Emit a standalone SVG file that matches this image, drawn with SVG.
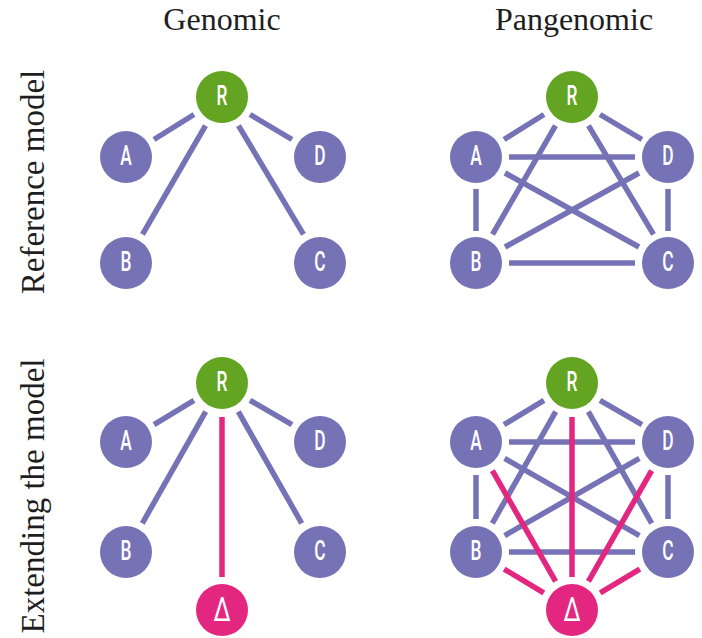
<svg xmlns="http://www.w3.org/2000/svg" width="702" height="638" viewBox="0 0 702 638">
<style>
.e{stroke:#7672b6;stroke-width:5.5;fill:none}
.m{stroke:#e3267f;stroke-width:5.5;fill:none}
.np{fill:#7672b6}
.ng{fill:#63a422}
.nm{fill:#e3267f}
.lb{font-family:"Roboto","Liberation Sans",sans-serif;font-size:28px;font-weight:500;fill:#fff;text-anchor:middle}
.dl{font-family:"Roboto","Liberation Sans",sans-serif;font-size:34px;font-weight:400;fill:#fff;text-anchor:middle}
.t{font-family:"Liberation Serif",serif;font-size:32px;fill:#1e1e1e;text-anchor:middle}
</style>
<rect width="702" height="638" fill="#fff"/>
<text class="t" x="222" y="30">Genomic</text>
<text class="t" x="574" y="30">Pangenomic</text>
<text class="t" transform="translate(44,182) rotate(-90)" style="font-size:33px">Reference model</text>
<text class="t" transform="translate(44,496) rotate(-90)" style="font-size:33px">Extending the model</text>
<g id="connectors">
<line class="e" x1="194" y1="114.5" x2="154" y2="139.5"/>
<line class="e" x1="205.5" y1="125.6" x2="142.5" y2="234.4"/>
<line class="e" x1="250" y1="114.5" x2="292" y2="139.5"/>
<line class="e" x1="238.5" y1="125.6" x2="303.5" y2="234.4"/>
<line class="e" x1="544" y1="114.5" x2="504" y2="139.5"/>
<line class="e" x1="555.5" y1="125.6" x2="492.5" y2="234.4"/>
<line class="e" x1="600" y1="114.5" x2="642" y2="139.5"/>
<line class="e" x1="588.5" y1="125.6" x2="653.5" y2="234.4"/>
<line class="e" x1="509" y1="157" x2="635" y2="157"/>
<line class="e" x1="476" y1="189" x2="476" y2="231"/>
<line class="e" x1="668" y1="189" x2="668" y2="231"/>
<line class="e" x1="509" y1="263" x2="635" y2="263"/>
<line class="e" x1="505" y1="173" x2="639" y2="247"/>
<line class="e" x1="639" y1="173" x2="505" y2="247"/>
<line class="e" x1="194" y1="400.3" x2="154" y2="424.7"/>
<line class="e" x1="250" y1="400.3" x2="292" y2="424.7"/>
<line class="e" x1="205.7" y1="411.7" x2="142.3" y2="523.3"/>
<line class="e" x1="238.3" y1="411.7" x2="301.7" y2="523.3"/>
<line class="m" x1="222" y1="417" x2="222" y2="577"/>
<line class="e" x1="544" y1="400.3" x2="504" y2="424.7"/>
<line class="e" x1="600" y1="400.3" x2="642" y2="424.7"/>
<line class="e" x1="555.7" y1="411.7" x2="492.3" y2="523.3"/>
<line class="e" x1="588.3" y1="411.7" x2="651.7" y2="523.3"/>
<line class="e" x1="509" y1="442" x2="635" y2="442"/>
<line class="e" x1="476" y1="475" x2="476" y2="519"/>
<line class="e" x1="668" y1="475" x2="668" y2="519"/>
<line class="e" x1="509" y1="552" x2="635" y2="552"/>
<line class="e" x1="504.6" y1="458.4" x2="639.4" y2="535.6"/>
<line class="e" x1="639.4" y1="458.4" x2="504.6" y2="535.6"/>
<line class="m" x1="572" y1="417" x2="572" y2="577"/>
<line class="m" x1="492.4" y1="470.7" x2="555.6" y2="581.3"/>
<line class="m" x1="651.6" y1="470.7" x2="588.4" y2="581.3"/>
<line class="m" x1="504.2" y1="569.1" x2="543.8" y2="592.9"/>
<line class="m" x1="639.8" y1="569.1" x2="600.2" y2="592.9"/>
</g>
<g id="tl-R"><circle class="ng" cx="222" cy="97" r="26"/><text class="lb" transform="translate(222,105) scale(0.62,1)">R</text></g>
<g id="tl-A"><circle class="np" cx="126" cy="157" r="26"/><text class="lb" transform="translate(126,165) scale(0.62,1)">A</text></g>
<g id="tl-D"><circle class="np" cx="320" cy="157" r="26"/><text class="lb" transform="translate(320,165) scale(0.62,1)">D</text></g>
<g id="tl-B"><circle class="np" cx="126" cy="263" r="26"/><text class="lb" transform="translate(126,271) scale(0.62,1)">B</text></g>
<g id="tl-C"><circle class="np" cx="320" cy="263" r="26"/><text class="lb" transform="translate(320,271) scale(0.62,1)">C</text></g>
<g id="tr-R"><circle class="ng" cx="572" cy="97" r="26"/><text class="lb" transform="translate(572,105) scale(0.62,1)">R</text></g>
<g id="tr-A"><circle class="np" cx="476" cy="157" r="26"/><text class="lb" transform="translate(476,165) scale(0.62,1)">A</text></g>
<g id="tr-D"><circle class="np" cx="668" cy="157" r="26"/><text class="lb" transform="translate(668,165) scale(0.62,1)">D</text></g>
<g id="tr-B"><circle class="np" cx="476" cy="263" r="26"/><text class="lb" transform="translate(476,271) scale(0.62,1)">B</text></g>
<g id="tr-C"><circle class="np" cx="668" cy="263" r="26"/><text class="lb" transform="translate(668,271) scale(0.62,1)">C</text></g>
<g id="bl-R"><circle class="ng" cx="222" cy="383" r="26"/><text class="lb" transform="translate(222,391) scale(0.62,1)">R</text></g>
<g id="bl-A"><circle class="np" cx="126" cy="442" r="26"/><text class="lb" transform="translate(126,450) scale(0.62,1)">A</text></g>
<g id="bl-D"><circle class="np" cx="320" cy="442" r="26"/><text class="lb" transform="translate(320,450) scale(0.62,1)">D</text></g>
<g id="bl-B"><circle class="np" cx="126" cy="552" r="26"/><text class="lb" transform="translate(126,560) scale(0.62,1)">B</text></g>
<g id="bl-C"><circle class="np" cx="320" cy="552" r="26"/><text class="lb" transform="translate(320,560) scale(0.62,1)">C</text></g>
<g id="bl-X"><circle class="nm" cx="222" cy="610" r="26"/><text class="dl" transform="translate(222,621) scale(0.72,1)">Δ</text></g>
<g id="br-R"><circle class="ng" cx="572" cy="383" r="26"/><text class="lb" transform="translate(572,391) scale(0.62,1)">R</text></g>
<g id="br-A"><circle class="np" cx="476" cy="442" r="26"/><text class="lb" transform="translate(476,450) scale(0.62,1)">A</text></g>
<g id="br-D"><circle class="np" cx="668" cy="442" r="26"/><text class="lb" transform="translate(668,450) scale(0.62,1)">D</text></g>
<g id="br-B"><circle class="np" cx="476" cy="552" r="26"/><text class="lb" transform="translate(476,560) scale(0.62,1)">B</text></g>
<g id="br-C"><circle class="np" cx="668" cy="552" r="26"/><text class="lb" transform="translate(668,560) scale(0.62,1)">C</text></g>
<g id="br-X"><circle class="nm" cx="572" cy="610" r="26"/><text class="dl" transform="translate(572,621) scale(0.72,1)">Δ</text></g>
</svg>
